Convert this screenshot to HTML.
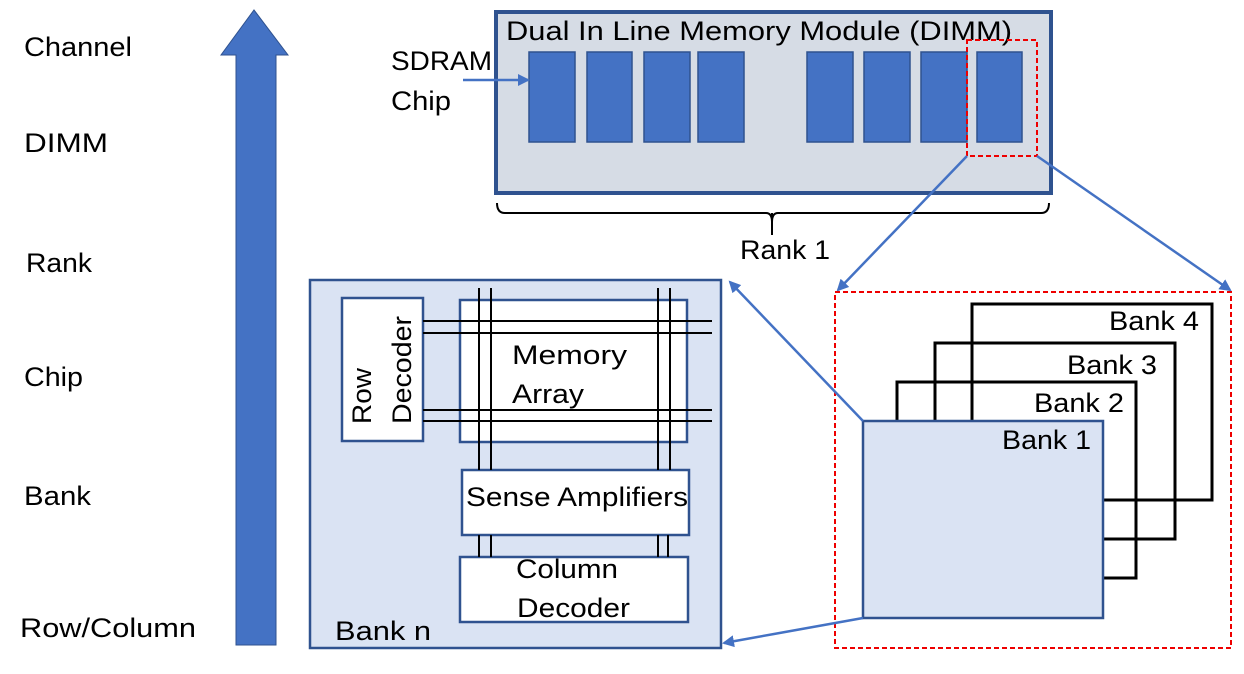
<!DOCTYPE html>
<html><head><meta charset="utf-8"><style>
body{margin:0;width:1244px;height:669px;background:#fff;overflow:hidden;font-family:"Liberation Sans",sans-serif}
</style></head><body>
<svg width="1244" height="669" viewBox="0 0 1244 669" xmlns="http://www.w3.org/2000/svg" font-family="Liberation Sans, sans-serif" font-size="27">
<defs><marker id="a" markerWidth="12" markerHeight="12" refX="10" refY="6" orient="auto" markerUnits="userSpaceOnUse"><path d="M0,0 L12,6 L0,12 z" fill="#4472c4"/></marker></defs>
<g fill="#000">
<text x="24" y="56" textLength="108" lengthAdjust="spacingAndGlyphs">Channel</text>
<text x="24" y="152" textLength="84" lengthAdjust="spacingAndGlyphs">DIMM</text>
<text x="26" y="272" textLength="66" lengthAdjust="spacingAndGlyphs">Rank</text>
<text x="24" y="386" textLength="59" lengthAdjust="spacingAndGlyphs">Chip</text>
<text x="24" y="505" textLength="67" lengthAdjust="spacingAndGlyphs">Bank</text>
<text x="20" y="637" textLength="176" lengthAdjust="spacingAndGlyphs">Row/Column</text>
</g>
<path d="M236,645 L236,55 L221,55 L254,10 L288,55 L276,55 L276,645 Z" fill="#4472c4" stroke="#2f528f" stroke-width="1"/>
<rect x="496" y="12" width="555" height="181" fill="#d6dce5" stroke="#2f528f" stroke-width="4"/>
<text x="506" y="40" textLength="506" lengthAdjust="spacingAndGlyphs">Dual In Line Memory Module (DIMM)</text>
<g fill="#4472c4" stroke="#2f528f" stroke-width="1.5">
<rect x="529" y="52" width="46" height="90"/><rect x="587" y="52" width="45" height="90"/><rect x="644" y="52" width="46" height="90"/><rect x="698" y="52" width="46" height="90"/>
<rect x="807" y="52" width="46" height="90"/><rect x="864" y="52" width="46" height="90"/><rect x="921" y="52" width="46" height="90"/><rect x="977" y="52" width="45" height="90"/>
</g>
<rect x="967" y="40" width="70" height="116" fill="none" stroke="#e00" stroke-width="2" stroke-dasharray="5,3"/>
<text x="391" y="70" textLength="101" lengthAdjust="spacingAndGlyphs">SDRAM</text><text x="391" y="110" textLength="60" lengthAdjust="spacingAndGlyphs">Chip</text>
<line x1="463" y1="80" x2="528" y2="80" stroke="#4472c4" stroke-width="2.5" marker-end="url(#a)"/>
<path d="M497,203 Q497,213 505,213 L766,213 Q772,213 772,222 Q772,213 778,213 L1041,213 Q1049,213 1049,203" fill="none" stroke="#000" stroke-width="2"/>
<line x1="772" y1="213" x2="772" y2="235" stroke="#000" stroke-width="2"/>
<text x="740" y="259" textLength="90" lengthAdjust="spacingAndGlyphs">Rank 1</text>
<line x1="967" y1="156" x2="838" y2="290" stroke="#4472c4" stroke-width="2.5" marker-end="url(#a)"/>
<line x1="1037" y1="156" x2="1230" y2="290" stroke="#4472c4" stroke-width="2.5" marker-end="url(#a)"/>
<rect x="310" y="280" width="411" height="368" fill="#dae3f3" stroke="#2f528f" stroke-width="2.5"/>
<rect x="342" y="298" width="81" height="143" fill="#fff" stroke="#2f528f" stroke-width="2.5"/>
<rect x="460" y="300" width="227" height="142" fill="#fff" stroke="#2f528f" stroke-width="2.5"/>
<rect x="462" y="470" width="227" height="65" fill="#fff" stroke="#2f528f" stroke-width="2.5"/>
<rect x="460" y="557" width="228" height="65" fill="#fff" stroke="#2f528f" stroke-width="2.5"/>
<g stroke="#000" stroke-width="2">
<line x1="479" y1="288" x2="479" y2="470"/><line x1="491" y1="288" x2="491" y2="470"/>
<line x1="658" y1="288" x2="658" y2="470"/><line x1="670" y1="288" x2="670" y2="470"/>
<line x1="479" y1="535" x2="479" y2="557"/><line x1="491" y1="535" x2="491" y2="557"/>
<line x1="658" y1="535" x2="658" y2="557"/><line x1="668" y1="535" x2="668" y2="557"/>
<line x1="423" y1="321" x2="712" y2="321"/><line x1="423" y1="333" x2="712" y2="333"/>
<line x1="423" y1="410" x2="712" y2="410"/><line x1="423" y1="421" x2="712" y2="421"/>
</g>
<text transform="translate(371,424) rotate(-90)" textLength="56" lengthAdjust="spacingAndGlyphs">Row</text>
<text transform="translate(411,424) rotate(-90)" textLength="108" lengthAdjust="spacingAndGlyphs">Decoder</text>
<text x="512" y="364" textLength="115" lengthAdjust="spacingAndGlyphs">Memory</text><text x="512" y="403" textLength="72" lengthAdjust="spacingAndGlyphs">Array</text>
<text x="466" y="506" textLength="222" lengthAdjust="spacingAndGlyphs">Sense Amplifiers</text>
<text x="516" y="578" textLength="102" lengthAdjust="spacingAndGlyphs">Column</text><text x="517" y="617" textLength="113" lengthAdjust="spacingAndGlyphs">Decoder</text>
<text x="335" y="640" textLength="96" lengthAdjust="spacingAndGlyphs">Bank  n</text>
<rect x="835" y="292" width="396" height="356" fill="none" stroke="#e00" stroke-width="2" stroke-dasharray="5,3"/>
<g fill="none" stroke="#000" stroke-width="3">
<rect x="972" y="304" width="240" height="196" fill="#fff"/>
<rect x="935" y="343" width="240" height="196"/>
<rect x="897" y="382" width="239" height="196"/>
</g>
<text x="1109" y="330" textLength="90" lengthAdjust="spacingAndGlyphs">Bank 4</text>
<text x="1067" y="374" textLength="90" lengthAdjust="spacingAndGlyphs">Bank 3</text>
<text x="1034" y="412" textLength="90" lengthAdjust="spacingAndGlyphs">Bank 2</text>
<rect x="863" y="421" width="240" height="197" fill="#dae3f3" stroke="#2f528f" stroke-width="2.5"/>
<text x="1002" y="449" textLength="89" lengthAdjust="spacingAndGlyphs">Bank 1</text>
<line x1="863" y1="421" x2="730" y2="282" stroke="#4472c4" stroke-width="2.5" marker-end="url(#a)"/>
<line x1="863" y1="618" x2="724" y2="643" stroke="#4472c4" stroke-width="2.5" marker-end="url(#a)"/>
</svg>
</body></html>
